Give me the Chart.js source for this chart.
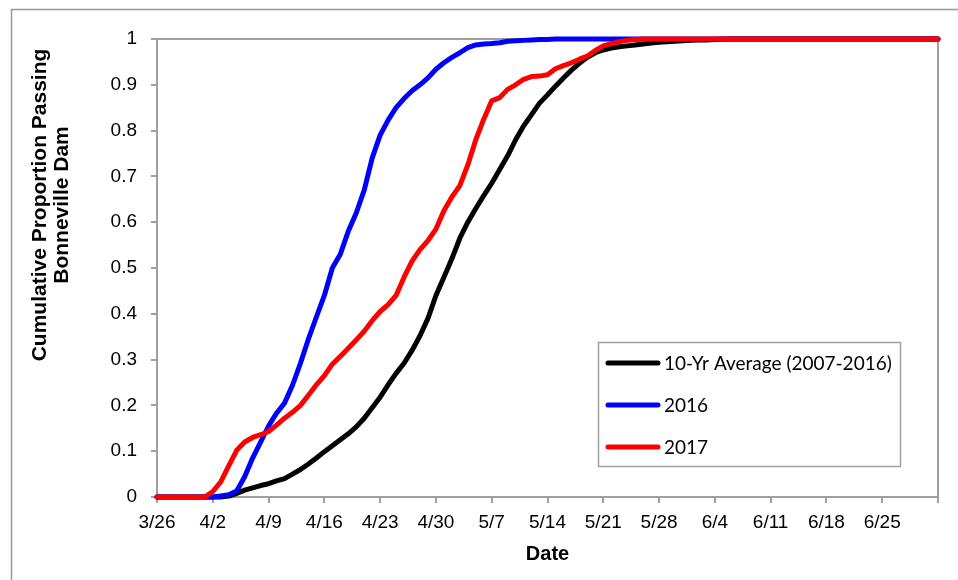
<!DOCTYPE html>
<html>
<head>
<meta charset="utf-8">
<script src="https://cdn.jsdelivr.net/npm/chart.js@4.4.1/dist/chart.umd.min.js"></script>
<style>
  html, body { margin: 0; padding: 0; background: #fff; }
  canvas { display: block; }
</style>
</head>
<body>
<canvas id="passageChart" width="958" height="580"></canvas>
<script>
// x = days after 3/26, one value per day (3/26 .. 7/2)
const dateLabels = ['3/26', '4/2', '4/9', '4/16', '4/23', '4/30', '5/7', '5/14', '5/21', '5/28', '6/4', '6/11', '6/18', '6/25', ''];
const yLabels = ['0', '0.1', '0.2', '0.3', '0.4', '0.5', '0.6', '0.7', '0.8', '0.9', '1'];
const seriesNames = ['10-Yr Average (2007-2016)', '2016', '2017'];
const seriesColors = ['#000000', '#0000ff', '#ff0000'];

const avg10yr = [
  0, 0, 0, 0, 0, 0, 0, 0, 0, 0.002,
  0.008, 0.015, 0.020, 0.025, 0.029, 0.035, 0.040, 0.050, 0.060, 0.072,
  0.085, 0.099, 0.112, 0.125, 0.138, 0.153, 0.172, 0.195, 0.218, 0.245,
  0.270, 0.292, 0.320, 0.352, 0.390, 0.440, 0.480, 0.520, 0.565, 0.600,
  0.630, 0.658, 0.685, 0.715, 0.745, 0.780, 0.810, 0.835, 0.860, 0.878,
  0.897, 0.915, 0.932, 0.947, 0.960, 0.970, 0.976, 0.980, 0.983, 0.985,
  0.987, 0.989, 0.991, 0.993, 0.994, 0.995, 0.996, 0.997, 0.998, 0.998,
  0.999, 1, 1, 1, 1, 1, 1, 1, 1, 1,
  1, 1, 1, 1, 1, 1, 1, 1, 1, 1,
  1, 1, 1, 1, 1, 1, 1, 1, 1
];

const run2016 = [
  0, 0, 0, 0, 0, 0, 0, 0, 0.002, 0.005,
  0.013, 0.044, 0.085, 0.120, 0.155, 0.183, 0.205, 0.244, 0.292, 0.345,
  0.393, 0.440, 0.500, 0.530, 0.580, 0.620, 0.670, 0.740, 0.790, 0.823,
  0.850, 0.870, 0.887, 0.900, 0.915, 0.934, 0.948, 0.960, 0.970, 0.981,
  0.987, 0.989, 0.990, 0.992, 0.995, 0.996, 0.997, 0.998, 0.999, 0.999,
  1, 1, 1, 1, 1, 1, 1, 1, 1, 1,
  1, 1, 1, 1, 1, 1, 1, 1, 1, 1,
  1, 1, 1, 1, 1, 1, 1, 1, 1, 1,
  1, 1, 1, 1, 1, 1, 1, 1, 1, 1,
  1, 1, 1, 1, 1, 1, 1, 1, 1
];

const run2017 = [
  0, 0, 0, 0, 0, 0, 0, 0.012, 0.033, 0.068,
  0.102, 0.120, 0.130, 0.136, 0.143, 0.157, 0.172, 0.185, 0.200, 0.222,
  0.245, 0.265, 0.290, 0.307, 0.325, 0.343, 0.362, 0.385, 0.405, 0.420,
  0.440, 0.480, 0.515, 0.540, 0.560, 0.585, 0.625, 0.655, 0.680, 0.725,
  0.780, 0.825, 0.865, 0.872, 0.890, 0.900, 0.912, 0.918, 0.919, 0.922,
  0.935, 0.942, 0.948, 0.956, 0.963, 0.975, 0.985, 0.990, 0.994, 0.997,
  0.999, 1, 1, 1, 1, 1, 1, 1, 1, 1,
  1, 1, 1, 1, 1, 1, 1, 1, 1, 1,
  1, 1, 1, 1, 1, 1, 1, 1, 1, 1,
  1, 1, 1, 1, 1, 1, 1, 1, 1
];

const toPoints = values => values.map((v, i) => ({ x: i, y: v }));

const axisGray = '#a0a0a0';
const tickFont = { family: 'Liberation Sans, Arial, sans-serif', size: 19 };

// outer frame, plot box, y title and legend box
const decorPlugin = {
  id: 'decor',
  beforeDraw(chart) {
    const ctx = chart.ctx;
    ctx.save();
    ctx.strokeStyle = '#999999';
    ctx.lineWidth = 1.5;
    ctx.beginPath();
    ctx.moveTo(11.5, chart.height);
    ctx.lineTo(11.5, 9.5);
    ctx.lineTo(chart.width, 9.5);
    ctx.stroke();
    const a = chart.chartArea;
    ctx.strokeStyle = axisGray;
    ctx.lineWidth = 2;
    ctx.strokeRect(a.left, a.top, a.right - a.left, a.bottom - a.top);
    ctx.restore();
  },
  afterDraw(chart) {
    const ctx = chart.ctx;
    ctx.save();
    // y axis title, two lines
    ctx.translate(51, 205);
    ctx.rotate(-Math.PI / 2);
    ctx.fillStyle = '#000';
    ctx.font = 'bold 21px "Liberation Sans", Arial, sans-serif';
    ctx.textAlign = 'center';
    ctx.textBaseline = 'middle';
    ctx.fillText('Cumulative Proportion Passing', 0, -11);
    ctx.fillText('Bonneville Dam', 0, 11);
    ctx.restore();

    // legend
    ctx.save();
    ctx.fillStyle = '#fff';
    ctx.fillRect(598, 342, 303, 125);
    ctx.strokeStyle = axisGray;
    ctx.lineWidth = 1.5;
    ctx.strokeRect(598.5, 342.5, 302, 124);
    ctx.font = '19px Lato, "Open Sans", sans-serif';
    ctx.textBaseline = 'middle';
    ctx.textAlign = 'left';
    const rows = [363, 405, 447];
    chart.data.datasets.forEach((ds, i) => {
      ctx.strokeStyle = ds.borderColor;
      ctx.lineWidth = 5;
      ctx.lineCap = 'round';
      ctx.beginPath();
      ctx.moveTo(608, rows[i]);
      ctx.lineTo(658, rows[i]);
      ctx.stroke();
      ctx.fillStyle = '#000';
      ctx.fillText(ds.label, 664, rows[i] + 1);
    });
    ctx.restore();
  }
};

new Chart(document.getElementById('passageChart'), {
  type: 'line',
  data: {
    datasets: [
      { label: seriesNames[0], data: toPoints(avg10yr), borderColor: seriesColors[0], order: 3 },
      { label: seriesNames[1], data: toPoints(run2016), borderColor: seriesColors[1], order: 2 },
      { label: seriesNames[2], data: toPoints(run2017), borderColor: seriesColors[2], order: 1 }
    ]
  },
  options: {
    responsive: false,
    animation: false,
    events: [],
    clip: false,
    datasets: {
      line: {
        borderWidth: 5,
        pointRadius: 0,
        tension: 0,
        borderJoinStyle: 'round',
        borderCapStyle: 'round',
        fill: false
      }
    },
    layout: { padding: { top: 39, right: 20, left: 0, bottom: 0 } },
    plugins: {
      legend: { display: false },
      tooltip: { enabled: false }
    },
    scales: {
      x: {
        type: 'linear',
        min: 0,
        max: 98,
        afterFit: scale => { scale.height = 83; },
        afterBuildTicks: scale => {
          scale.ticks = dateLabels.map((_, i) => ({ value: i * 7 }));
        },
        ticks: {
          font: tickFont,
          color: '#000',
          padding: 8,
          maxRotation: 0,
          autoSkip: false,
          callback: value => dateLabels[Math.round(value / 7)]
        },
        grid: { drawOnChartArea: false, color: axisGray, lineWidth: 2, tickLength: 6 },
        border: { color: axisGray, width: 2 },
        title: {
          display: true,
          text: 'Date',
          color: '#000',
          font: { family: 'Liberation Sans, Arial, sans-serif', size: 20, weight: 'bold' },
          padding: { top: 0, bottom: 14 }
        }
      },
      y: {
        min: 0,
        max: 1,
        afterFit: scale => { scale.width = 157; },
        afterBuildTicks: scale => {
          scale.ticks = yLabels.map((_, i) => ({ value: i / 10 }));
        },
        ticks: {
          font: tickFont,
          color: '#000',
          padding: 14,
          autoSkip: false,
          callback: value => yLabels[Math.round(value * 10)]
        },
        grid: { drawOnChartArea: false, color: axisGray, lineWidth: 2, tickLength: 6 },
        border: { color: axisGray, width: 2 }
      }
    }
  },
  plugins: [decorPlugin]
});
</script>
</body>
</html>
